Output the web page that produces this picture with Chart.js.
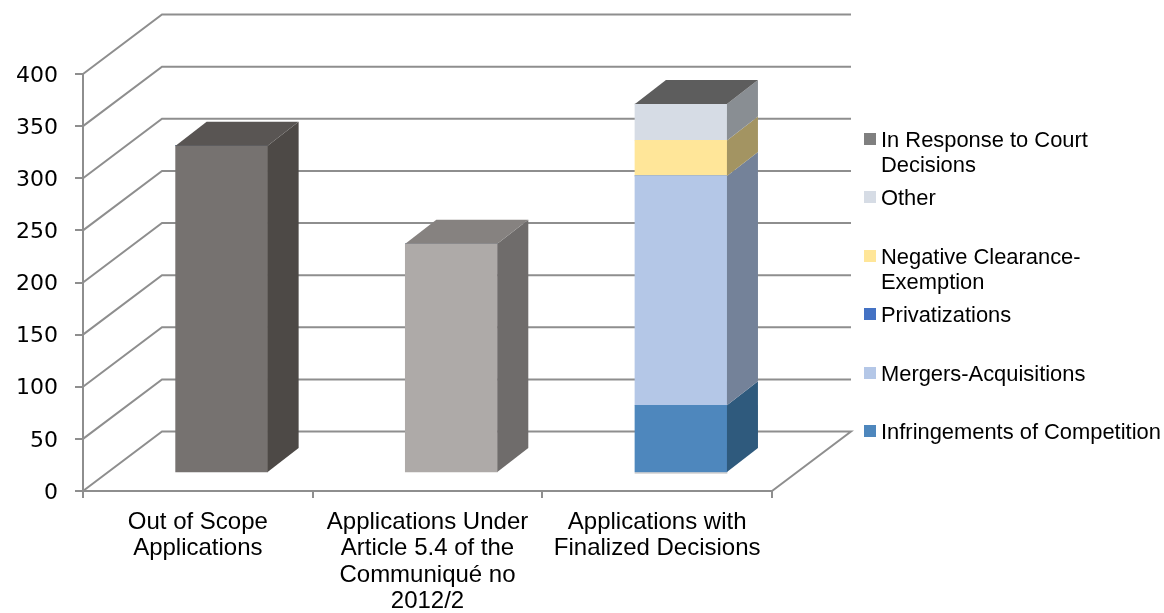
<!DOCTYPE html>
<html>
<head>
<meta charset="utf-8">
<script src="https://cdn.jsdelivr.net/npm/chart.js@4"></script>
<style>
  html, body { margin: 0; padding: 0; background: #fff; }
  #wrap { position: relative; width: 1164px; height: 613px; overflow: hidden; }
  #grafico { position: absolute; left: 0; top: 0; }
  .item { position: absolute; left: 864px; width: 300px; font: 21.9px/25.5px "Liberation Sans", Arial, sans-serif; color: #000; padding-left: 17px; box-sizing: border-box; }
  .item i { position: absolute; left: 0; top: 6px; width: 11.5px; height: 12px; }
</style>
</head>
<body>
<div id="wrap">
  <canvas id="grafico" width="1164" height="613"></canvas>
  <div id="leyenda"></div>
</div>
<script>
const categories = [
    ['Out of Scope', 'Applications'],
    ['Applications Under', 'Article 5.4 of the', 'Communiqué no', '2012/2'],
    ['Applications with', 'Finalized Decisions']
];
const yTicks = [0, 50, 100, 150, 200, 250, 300, 350, 400];

// first two bars have no legend entry in the original
const otherApplications = [314, 220, 0];
const infringements = [0, 0, 65];
const mergers = [0, 0, 220];
const privatizations = [0, 0, 0];
const negativeClearance = [0, 0, 34];
const other = [0, 0, 35];
const courtDecisions = [0, 0, 0];

const legendNames = [
    ['In Response to Court', 'Decisions'],
    ['Other'],
    ['Negative Clearance-', 'Exemption'],
    ['Privatizations'],
    ['Mergers-Acquisitions'],
    ['Infringements of Competition']
];

const GREY = '#8e8e8e';
// depth of the box and of the bars, in px
const BOX_DX = 79, BOX_DY = -59.5;
const BAR_OFF_X = 23.8, BAR_OFF_Y = -18;
const BAR_DX = 31, BAR_DY = -24;

const makeSeries = (label, data, front, side, top) => ({
    label, data, backgroundColor: front, sideColor: side, topColor: top,
    borderWidth: 0, barThickness: 92, clip: false
});

const datasets = [
    makeSeries('Applications', otherApplications, ['#767270', '#aeaaa8', '#767270'], ['#4d4946', '#6f6c6b', '#4d4946'], ['#595553', '#868280', '#595553']),
    makeSeries('Infringements of Competition', infringements, '#4e87bd', '#2f5a7d', '#5d5d5d'),
    makeSeries('Mergers-Acquisitions', mergers, '#b4c7e7', '#748299', '#5d5d5d'),
    makeSeries('Privatizations', privatizations, '#4472c4', '#2d4c82', '#5d5d5d'),
    makeSeries('Negative Clearance-Exemption', negativeClearance, '#ffe699', '#a39462', '#5d5d5d'),
    makeSeries('Other', other, '#d6dce5', '#898e93', '#5d5d5d'),
    makeSeries('In Response to Court Decisions', courtDecisions, '#7f7f7f', '#555555', '#5d5d5d')
];
const legendColors = ['#7f7f7f', '#d6dce5', '#ffe699', '#4472c4', '#b4c7e7', '#4e87bd'];

const poly = (ctx, pts, color) => {
    ctx.fillStyle = color;
    ctx.beginPath();
    pts.forEach((p, i) => i ? ctx.lineTo(p[0], p[1]) : ctx.moveTo(p[0], p[1]));
    ctx.closePath();
    ctx.fill();
};

const pick = (c, i) => Array.isArray(c) ? c[i] : c;

const box3d = {
    id: 'box3d',
    beforeDatasetsDraw(chart) {
        const { ctx, chartArea, scales } = chart;
        const { left, right } = chartArea;
        ctx.save();
        ctx.strokeStyle = GREY;
        ctx.lineWidth = 2;
        yTicks.forEach(v => {
            const y = scales.y.getPixelForValue(v);
            ctx.beginPath();
            ctx.moveTo(left, y);
            ctx.lineTo(left + BOX_DX, y + BOX_DY);
            ctx.lineTo(right + BOX_DX, y + BOX_DY);
            if (v === 0) ctx.lineTo(right, y);
            ctx.stroke();
        });
        ctx.restore();
        // the library draws the front faces, pushed back onto the floor
        ctx.save();
        ctx.translate(BAR_OFF_X, BAR_OFF_Y);
    },
    afterDatasetsDraw(chart) {
        const { ctx } = chart;
        const tops = {};
        chart.data.datasets.forEach((ds, d) => {
            chart.getDatasetMeta(d).data.forEach((bar, i) => {
                if (ds.data[i] <= 0) return;
                const r = bar.x + bar.width / 2;
                poly(ctx, [[r, bar.y], [r + BAR_DX, bar.y + BAR_DY], [r + BAR_DX, bar.base + BAR_DY], [r, bar.base]], pick(ds.sideColor, i));
                tops[i] = { bar, color: pick(ds.topColor, i) };
            });
        });
        Object.values(tops).forEach(({ bar, color }) => {
            const l = bar.x - bar.width / 2, r = bar.x + bar.width / 2;
            poly(ctx, [[l, bar.y], [l + BAR_DX, bar.y + BAR_DY], [r + BAR_DX, bar.y + BAR_DY], [r, bar.y]], color);
        });
        ctx.restore();
    }
};

new Chart(document.getElementById('grafico'), {
    type: 'bar',
    data: { labels: categories, datasets },
    plugins: [box3d],
    options: {
        responsive: false,
        animation: false,
        layout: { padding: { top: 74, right: 392, left: 0, bottom: 0 } },
        plugins: { legend: { display: false }, tooltip: { enabled: false } },
        scales: {
            x: {
                stacked: true,
                afterFit: s => { s.height = 122; },
                grid: { drawOnChartArea: false, color: GREY, lineWidth: 2, tickLength: 7 },
                border: { color: GREY, width: 2 },
                ticks: {
                    autoSkip: false, maxRotation: 0, minRotation: 0, padding: 11, color: '#000',
                    font: { family: '"Liberation Sans", Arial, sans-serif', size: 24, lineHeight: 1.1 }
                }
            },
            y: {
                stacked: true,
                min: 0,
                max: 400,
                afterFit: s => { s.width = 83; },
                afterBuildTicks: s => { s.ticks = yTicks.map(value => ({ value })); },
                grid: { drawOnChartArea: false, color: GREY, lineWidth: 2, tickLength: 8 },
                border: { color: GREY, width: 2 },
                ticks: {
                    padding: 17, labelOffset: 2, color: '#000',
                    font: { family: '"DejaVu Sans", sans-serif', size: 22 }
                }
            }
        }
    }
});

const leyenda = document.getElementById('leyenda');
legendNames.forEach((lines, i) => {
    const item = document.createElement('div');
    item.className = 'item';
    item.style.top = (126.5 + i * 58.5) + 'px';
    item.innerHTML = '<i style="background:' + legendColors[i] + '"></i>' + lines.join('<br>');
    leyenda.appendChild(item);
});
</script>
</body>
</html>
